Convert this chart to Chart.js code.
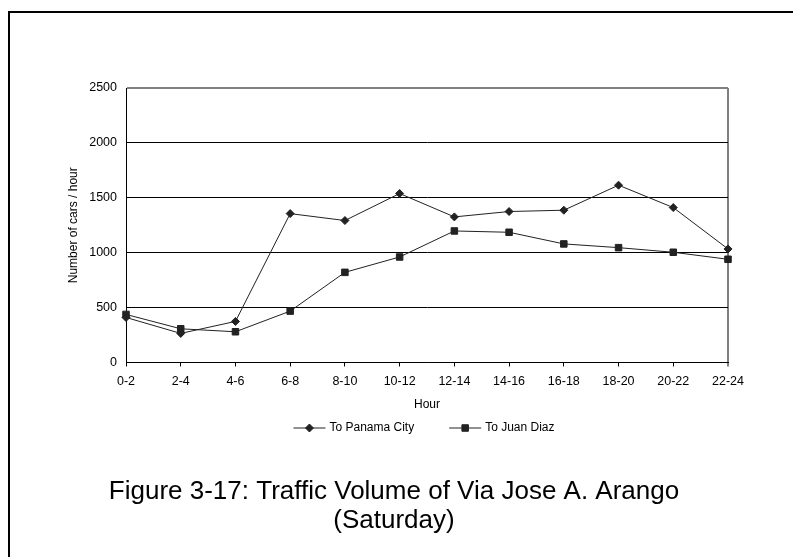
<!DOCTYPE html>
<html><head><meta charset="utf-8">
<script src="https://cdn.jsdelivr.net/npm/chart.js@4.4.1/dist/chart.umd.min.js"></script>
<style>html,body{margin:0;padding:0;background:#fff;} #wrap{width:793px;height:557px;position:relative;overflow:hidden;}</style>
</head><body><div id="wrap"><canvas id="c" width="793" height="557"></canvas></div>
<script>
const hours = ['0-2','2-4','4-6','6-8','8-10','10-12','12-14','14-16','16-18','18-20','20-22','22-24'];
const toPanamaCity = [410, 265, 374, 1356, 1293, 1539, 1326, 1375, 1387, 1615, 1411, 1034];
const toJuanDiaz = [438, 307, 280, 468, 821, 961, 1198, 1186, 1080, 1046, 1004, 940];
const seriesNames = ['To Panama City', 'To Juan Diaz'];
const yTicks = [0, 500, 1000, 1500, 2000, 2500];
const yAxisTitle = 'Number of cars / hour';
const xAxisTitle = 'Hour';
const caption = ['Figure 3-17: Traffic Volume of Via Jose A. Arango', '(Saturday)'];

const FONT = "Arial, 'Liberation Sans', sans-serif";
const INK = '#222222';

const framePlugin = {
  id: 'frame',
  beforeDraw(chart) {
    const ctx = chart.ctx;
    ctx.save();
    ctx.fillStyle = '#fff';
    ctx.fillRect(0, 0, chart.width, chart.height);
    ctx.strokeStyle = '#000';
    ctx.lineWidth = 2;
    ctx.strokeRect(9, 12, 820, 600);
    ctx.restore();
  }
};

const legendPlugin = {
  id: 'lineLegend',
  afterDraw(chart) {
    const ctx = chart.ctx;
    const a = chart.chartArea;
    ctx.save();
    ctx.font = '12px ' + FONT;
    ctx.textBaseline = 'middle';
    const lineW = 32, gapText = 4, gapItem = 35;
    const widths = chart.data.datasets.map(d => ctx.measureText(d.label).width);
    let total = 0;
    widths.forEach((w, i) => { total += lineW + gapText + w + (i ? gapItem : 0); });
    let x = (a.left + a.right) / 2 - 3 - total / 2;
    const y = a.bottom + 65;
    chart.data.datasets.forEach((d, i) => {
      ctx.strokeStyle = d.borderColor;
      ctx.lineWidth = 1;
      ctx.beginPath();
      ctx.moveTo(x, y + 0.5);
      ctx.lineTo(x + lineW, y + 0.5);
      ctx.stroke();
      ctx.fillStyle = d.pointBackgroundColor;
      Chart.helpers.drawPoint(ctx, {pointStyle: d.pointStyle, radius: d.pointRadius, rotation: 0, borderWidth: 1}, x + lineW / 2, y + 0.5);
      ctx.fillStyle = '#000';
      ctx.textAlign = 'left';
      ctx.fillText(d.label, x + lineW + gapText, y);
      x += lineW + gapText + widths[i] + gapItem;
    });
    ctx.restore();
  }
};

new Chart(document.getElementById('c'), {
  type: 'line',
  data: {
    labels: hours,
    datasets: [
      {label: seriesNames[0], data: toPanamaCity, borderColor: INK, backgroundColor: INK,
       pointBackgroundColor: INK, pointBorderColor: INK, borderWidth: 1, pointStyle: 'rectRot',
       pointRadius: 4, pointBorderWidth: 1, tension: 0, fill: false},
      {label: seriesNames[1], data: toJuanDiaz, borderColor: INK, backgroundColor: INK,
       pointBackgroundColor: INK, pointBorderColor: INK, borderWidth: 1, pointStyle: 'rect',
       pointRadius: 4.6, pointBorderWidth: 1, tension: 0, fill: false}
    ]
  },
  options: {
    responsive: false,
    animation: false,
    devicePixelRatio: 1,
    layout: {padding: {left: 60, right: 65, top: 88, bottom: 22}},
    plugins: {
      legend: {display: false},
      tooltip: {enabled: false},
      title: {
        display: true, position: 'bottom', text: caption, color: '#000',
        font: {family: FONT, size: 26, weight: 'normal', lineHeight: 1.1},
        padding: {top: 65.5, bottom: 0}
      }
    },
    scales: {
      x: {
        offset: false,
        grid: {
          display: true, drawOnChartArea: true, drawTicks: true, tickLength: 4,
          color: ctx => (ctx.index === hours.length - 1 ? '#808080' : 'rgba(0,0,0,0)'),
          lineWidth: ctx => (ctx.index === hours.length - 1 ? 2 : 1),
          tickColor: '#000', tickWidth: 1
        },
        border: {display: true, color: '#000', width: 1},
        ticks: {color: '#000', font: {family: FONT, size: 12.5}, padding: 8, maxRotation: 0, autoSkip: false},
        title: {display: true, text: xAxisTitle, color: '#000', font: {family: FONT, size: 12}, padding: {top: 0.4, bottom: 0}}
      },
      y: {
        min: 0, max: 2500,
        afterBuildTicks: s => { s.ticks = yTicks.map(v => ({value: v})); },
        afterFit: s => { s.width = 66; },
        grid: {
          drawTicks: false,
          color: ctx => (ctx.tick && ctx.tick.value === 2500 ? '#808080' : '#000'),
          lineWidth: ctx => (ctx.tick && ctx.tick.value === 2500 ? 2 : 1)
        },
        border: {display: true, color: '#000', width: 1},
        ticks: {color: '#000', font: {family: FONT, size: 12.5}, padding: 9, callback: v => String(v)},
        title: {display: true, text: yAxisTitle, color: '#000', font: {family: FONT, size: 12}, padding: {top: 6, bottom: 0}}
      }
    }
  },
  plugins: [framePlugin, legendPlugin]
});
</script></body></html>
